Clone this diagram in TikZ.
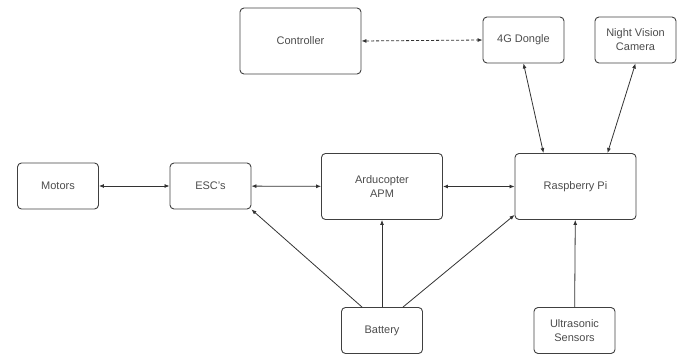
\documentclass[tikz,border=0pt]{standalone}
\usepackage{fontspec}
\setmainfont{Liberation Sans}
\usetikzlibrary{arrows.meta}

\begin{document}
\begin{tikzpicture}[x=1pt, y=1pt,
		block/.style={draw=black!75, line width=0.9pt, rounded corners=4pt, align=center, text=black!70, font=\fontsize{11}{14}\selectfont, inner sep=0pt},
		smallbox/.style={block, minimum width=81pt, minimum height=46pt},
		bigbox/.style={block, minimum width=121pt, minimum height=66pt},
		link/.style={draw=black!80, line width=0.8pt, {Latex[length=5pt,width=4pt]}-{Latex[length=5pt,width=4pt]}},
		feed/.style={draw=black!80, line width=0.8pt, -{Latex[length=5pt,width=4pt]}}
	]
	\useasboundingbox ( 0, 0 ) rectangle ( 683, 354 );

	% верхний ряд
	\node [bigbox] (controller) at ( 300.5, 313.0 ) {Controller};
	\node [smallbox] (dongle) at ( 523.5, 314.0 ) {4G Dongle};
	\node [smallbox] (camera) at ( 635.5, 314.0 ) {Night Vision\\Camera};

	% средний ряд
	\node [smallbox] (motors) at ( 58.0, 168.0 ) {Motors};
	\node [smallbox] (esc) at ( 210.5, 168.0 ) {ESC's};
	\node [bigbox] (apm) at ( 382.0, 167.5 ) {Arducopter\\APM};
	\node [bigbox] (pi) at ( 575.5, 167.5 ) {Raspberry Pi};

	% нижний ряд
	\node [smallbox] (battery) at ( 382.0, 23.5 ) {Battery};
	\node [smallbox] (sonar) at ( 574.5, 23.5 ) {Ultrasonic\\Sensors};

	% двусторонние связи
	\draw [link, dashed, dash pattern=on 3pt off 2pt] (controller.east) -- (dongle.west);
	\draw [link] (motors) -- (esc);
	\draw [link] (esc) -- (apm);
	\draw [link] (apm) -- (pi);
	\draw [link] (dongle.south) -- ([xshift=-32pt]pi.north);
	\draw [link] (camera.south) -- ([xshift=32pt]pi.north);

	% питание и датчики
	\draw [feed] ([xshift=-20pt]battery.north) -- (esc.south east);
	\draw [feed] (battery) -- (apm);
	\draw [feed] ([xshift=21pt]battery.north) -- ([yshift=5pt]pi.south west);
	\draw [feed] (sonar) -- (pi);
\end{tikzpicture}
\end{document}
